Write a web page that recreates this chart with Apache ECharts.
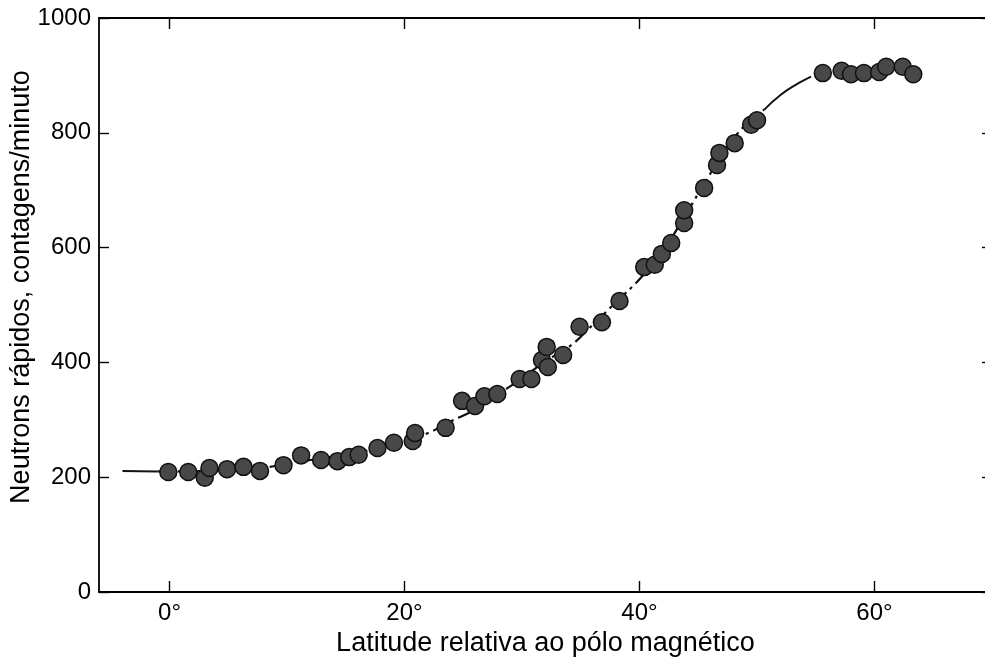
<!DOCTYPE html>
<html>
<head>
<meta charset="utf-8">
<script src="https://cdn.jsdelivr.net/npm/echarts@6/dist/echarts.min.js"></script>
<style>
html,body{margin:0;padding:0;background:#fff;}
#chart{width:985px;height:659px;}
</style>
</head>
<body>
<div id="chart"></div>
<script>
// Measured points: latitude (deg) and fast neutron counts/min
var latitude = [-0.1,1.6,3.0,3.4,4.9,6.3,7.7,9.7,11.2,12.9,14.3,15.3,16.1,17.7,19.1,20.7,20.9,23.5,24.9,26.0,26.8,27.9,29.8,30.8,31.7,32.1,32.2,33.5,34.9,36.8,38.3,40.4,41.3,41.9,42.7,43.8,43.8,45.5,46.6,46.8,48.1,49.5,50.0,55.6,57.2,58.0,59.1,60.4,61.0,62.4,63.3];
var counts = [209,209,199,216,214,218,211,221,238,230,228,235,239,251,260,263,277,286,333,324,341,345,371,371,404,427,392,413,462,470,507,566,570,589,608,643,665,704,744,765,782,814,822,904,908,902,904,906,915,915,902];

// Fitted curve
var curveLat = [-4,-1,0,4,8,10,12,14,16,18,20,22,24,26,28,30,32,34,36,38,40,42,44,46,48,50,50.6,52,53.5,54.6];
var curveCounts = [211,210,210,212,217,223,230,236,243,252,263,277,298,318,345,372,402,427,465,505,545,595,660,728,790,832,840,866,886,898];

var xTicks = [0,20,40,60];
var yTickStep = 200;

function pairs(xs, ys, a, b){
  var out=[]; for(var i=a;i<=b;i++){ out.push([xs[i], ys[i]]); } return out;
}
var startEnd = 1;           // solid lead-in up to index 1
var endStart = 26;          // solid tail from index 26
var n = curveLat.length - 1;

var font = 'Liberation Sans, Arial, sans-serif';
var axisLine = {show:true, onZero:false, lineStyle:{color:'#000', width:1.8}};

var chart = echarts.init(document.getElementById('chart'), null, {renderer:'canvas'});
chart.setOption({
  animation:false,
  backgroundColor:'#fff',
  grid:{left:99, top:18, width:893, height:574, containLabel:false, outerBoundsMode:'none'},
  xAxis:[{
    type:'value', min:-6, max:70, position:'bottom',
    name:'Latitude relativa ao pólo magnético', nameLocation:'middle', nameGap:37,
    nameTextStyle:{fontFamily:font, fontSize:27, color:'#000'},
    axisLine:axisLine,
    axisTick:{show:true, inside:true, length:11, customValues:xTicks, lineStyle:{color:'#000', width:1.4}},
    axisLabel:{show:true, customValues:xTicks, formatter:'{value}°', fontFamily:font, fontSize:24, color:'#000', margin:9},
    splitLine:{show:false}
  },{
    type:'value', min:-6, max:70, position:'top',
    axisLine:axisLine,
    axisTick:{show:true, inside:true, length:11, customValues:xTicks, lineStyle:{color:'#000', width:1.4}},
    axisLabel:{show:false},
    splitLine:{show:false}
  }],
  yAxis:[{
    type:'value', min:0, max:1000, interval:yTickStep, position:'left',
    name:'Neutrons rápidos, contagens/minuto', nameLocation:'middle', nameGap:64, nameMoveOverlap:false,
    nameTextStyle:{fontFamily:font, fontSize:27, color:'#000', padding:[0,0,0,36]},
    axisLine:axisLine,
    axisTick:{show:true, inside:true, length:10, lineStyle:{color:'#000', width:1.4}},
    axisLabel:{fontFamily:font, fontSize:24, color:'#000', margin:8, formatter:function(v){return String(v);}},
    splitLine:{show:false}
  },{
    type:'value', min:0, max:1000, interval:yTickStep, position:'right',
    axisLine:axisLine,
    axisTick:{show:true, inside:true, length:10, lineStyle:{color:'#000', width:1.4}},
    axisLabel:{show:false},
    splitLine:{show:false}
  }],
  series:[
    {type:'line', xAxisIndex:0, yAxisIndex:0, smooth:true, showSymbol:false, z:1,
     data:pairs(curveLat, curveCounts, 0, startEnd),
     lineStyle:{color:'#111', width:2}},
    {type:'line', xAxisIndex:0, yAxisIndex:0, smooth:true, showSymbol:false, z:1,
     data:pairs(curveLat, curveCounts, startEnd, endStart),
     lineStyle:{color:'#111', width:2.2, type:[15,5,3,5]}},
    {type:'line', xAxisIndex:0, yAxisIndex:0, smooth:true, showSymbol:false, z:1,
     data:pairs(curveLat, curveCounts, endStart, n),
     lineStyle:{color:'#111', width:2}},
    {type:'scatter', xAxisIndex:0, yAxisIndex:0, z:3,
     data:latitude.map(function(v,i){return [v, counts[i]];}),
     symbol:'circle', symbolSize:17,
     itemStyle:{color:'#484848', borderColor:'#111', borderWidth:1.5, opacity:1}}
  ]
});
</script>
</body>
</html>
